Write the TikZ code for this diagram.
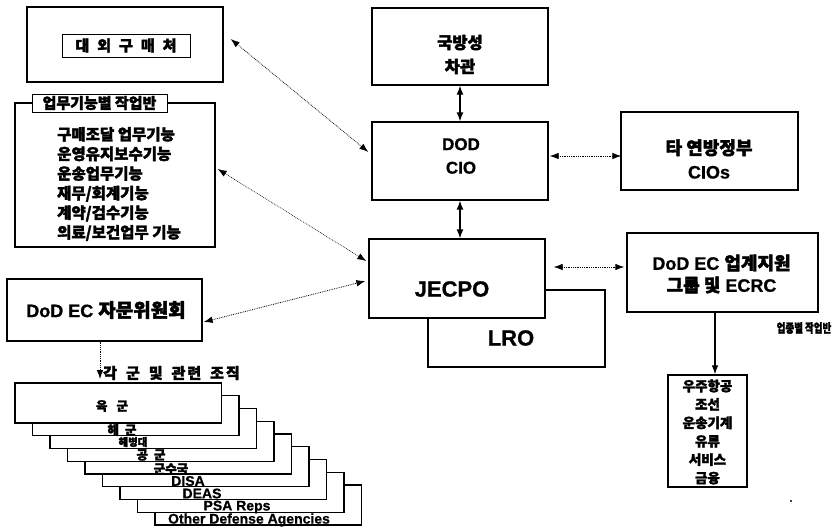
\documentclass[tikz,border=0pt]{standalone}
\usepackage{fontspec}
\setmainfont{Liberation Sans}[BoldFeatures={FakeBold=0.8}]
\newfontfamily\krfont{Noto Sans CJK KR}[FakeBold=2.2]
\usetikzlibrary{arrows.meta}
\newcommand\KR[1]{{\krfont #1}}
\begin{document}
\begin{tikzpicture}[x=1pt,y=-1pt,
  box/.style={draw,line width=1.3pt,fill=white,inner sep=0pt},
  thinbox/.style={draw,line width=0.9pt,fill=white,inner sep=1pt},
  txt/.style={inner sep=0pt,align=center},
  solidarr/.style={line width=1.3pt,{Latex[length=9pt,width=7pt]}-{Latex[length=9pt,width=7pt]}},
  dotarr/.style={line width=0.8pt,densely dotted,{Latex[length=9pt,width=6.5pt]}-{Latex[length=9pt,width=6.5pt]}},
  dotone/.style={line width=0.8pt,densely dotted,-{Latex[length=9pt,width=6.5pt]}},
  solone/.style={line width=1.1pt,-{Latex[length=9pt,width=6.5pt]}},
  stk/.style={draw,line width=1.2pt,fill=white,minimum width=206.5,minimum height=40,inner sep=0pt},
  stkl/.style={inner sep=0pt,font=\bfseries\fontsize{12.5}{12.5}\selectfont\krfont},
  stkL/.style={inner sep=0pt,font=\bfseries\fontsize{14}{14}\selectfont}
]
\useasboundingbox (0,0) rectangle (833,530);

% --- external purchasers
\node[box,minimum width=196,minimum height=75] (ext) at (125,44.5) {};
\node[thinbox,minimum width=128,minimum height=23,font=\bfseries\fontsize{15}{15}\selectfont\krfont] (extin) at (126,45.5)
  {대\hspace{8pt}외\hspace{8pt}구\hspace{8pt}매\hspace{8pt}처};

% --- functional working groups
\node[box,minimum width=200,minimum height=144] (func) at (115,175) {};
\node[thinbox,minimum width=135,minimum height=18,font=\bfseries\fontsize{15}{15}\selectfont\krfont] (funch) at (99.5,103) {업무기능별 작업반};
\node[txt,align=left,anchor=west,font=\bfseries\fontsize{15.5}{19.6}\selectfont\krfont] (funcl) at (57,184)
  {구매조달 업무기능\\운영유지보수기능\\운송업무기능\\재무/회계기능\\계약/검수기능\\의료/보건업무 기능};

% --- vice secretary
\node[box,minimum width=176,minimum height=77] (vice) at (460,46.5) {};
\node[txt,font=\bfseries\fontsize{16.5}{24}\selectfont\krfont] (vicet) at (460,54.5) {국방성\\차관};

% --- DOD CIO
\node[box,minimum width=176,minimum height=78] (cio) at (460,161) {};
\node[txt,font=\bfseries\fontsize{17}{23.5}\selectfont] (ciot) at (461,156) {DOD\\CIO};

% --- other federal CIOs
\node[box,minimum width=177,minimum height=78] (fed) at (709.5,151) {};
\node[txt,font=\bfseries\fontsize{18}{24}\selectfont] (fedt) at (709,159) {\KR{타 연방정부}\\CIOs};

% --- LRO and JECPO
\node[box,minimum width=177,minimum height=77] (lro) at (516.5,328.5) {};
\node[txt,font=\bfseries\fontsize{22}{22}\selectfont] (lrot) at (511,338) {LRO};
\node[box,minimum width=176,minimum height=79] (jecpo) at (457,278.5) {};
\node[txt,font=\bfseries\fontsize{22}{22}\selectfont] (jecpot) at (452,289) {JECPO};

% --- industry support group
\node[box,minimum width=191,minimum height=79] (ind) at (722.5,272.5) {};
\node[txt,font=\bfseries\fontsize{18}{22}\selectfont] (indt) at (721.5,274) {DoD EC \KR{업계지원}\\\KR{그룹 및} ECRC};
\node[txt,font=\bfseries\fontsize{12.5}{12.5}\selectfont\krfont] (indlab) at (804,328) {\scalebox{0.76}[1]{업종별 작업반}};
\node[box,minimum width=79,minimum height=112] (indl) at (707.5,431) {};
\node[txt,font=\bfseries\fontsize{13.5}{18.4}\selectfont\krfont] (indlt) at (707.5,432) {우주항공\\조선\\운송기계\\유류\\서비스\\금융};

% --- advisory board
\node[box,minimum width=195,minimum height=62] (adv) at (104.5,310) {};
\node[txt,font=\bfseries\fontsize{18}{18}\selectfont] (advt) at (106,310) {DoD EC \KR{\fontsize{19}{19}\selectfont 자문위원회}};
\node[txt,font=\bfseries\fontsize{15}{15}\selectfont\krfont,anchor=west] (grp) at (103,373)
  {각\hspace{9pt}군\hspace{9pt}및\hspace{9pt}관\hspace{2pt}련\hspace{9pt}조\hspace{2pt}직};
\coordinate (grptip) at (100,379);

% --- stacked organisations
\foreach \k in {8,7,...,0} {
  \node[stk] (s\k) at ({118.25+17.5*\k},{403+12.75*\k}) {};
}
\node[stkl] (l0) at (112,406) {육\hspace{9pt}군};
\node[stkl] (l1) at (122,430) {해\hspace{6pt}군};
\node[stkl,font=\bfseries\fontsize{10.5}{10.5}\selectfont\krfont] (l2) at (133,442) {해병대};
\node[stkl] (l3) at (151,455) {공\hspace{6pt}군};
\node[stkl] (l4) at (171,469) {군수국};
\node[stkL] (l5) at (188,481) {DISA};
\node[stkL] (l6) at (202,493.5) {DEAS};
\node[stkL] (l7) at (237,507) {PSA Reps};
\node[stkL] (l8) at (249,520) {Other Defense Agencies};

% --- connectors
\draw[solidarr] (vice.south) -- (cio.north);
\draw[solidarr] (cio.south) -- (cio.south |- jecpo.north);
\draw[dotarr] ([shift={(7,-5.5)}]ext.east) -- ([shift={(-3,-9)}]cio.west);
\draw[dotarr, line width=0.6pt] ([shift={(2,-6)}]func.east) -- ([shift={(-2,-17.5)}]jecpo.west);
\draw[dotarr] ([shift={(1,-5)}]cio.east) -- ([shift={(1,-5)}]cio.east -| fed.west);
\draw[dotarr] ([shift={(8,-11.5)}]jecpo.east) -- ([shift={(-2,-5.5)}]ind.west);
\draw[dotarr] ([shift={(1,12)}]adv.east) -- ([shift={(-3,2.5)}]jecpo.west);
\draw[dotone] ([xshift=-4.5]adv.south) -- (grptip);
\draw[solone] ([xshift=7.5]indl.north |- ind.south) -- ([xshift=7.5]indl.north);

\fill (791,501) circle (1.2);
\end{tikzpicture}
\end{document}
